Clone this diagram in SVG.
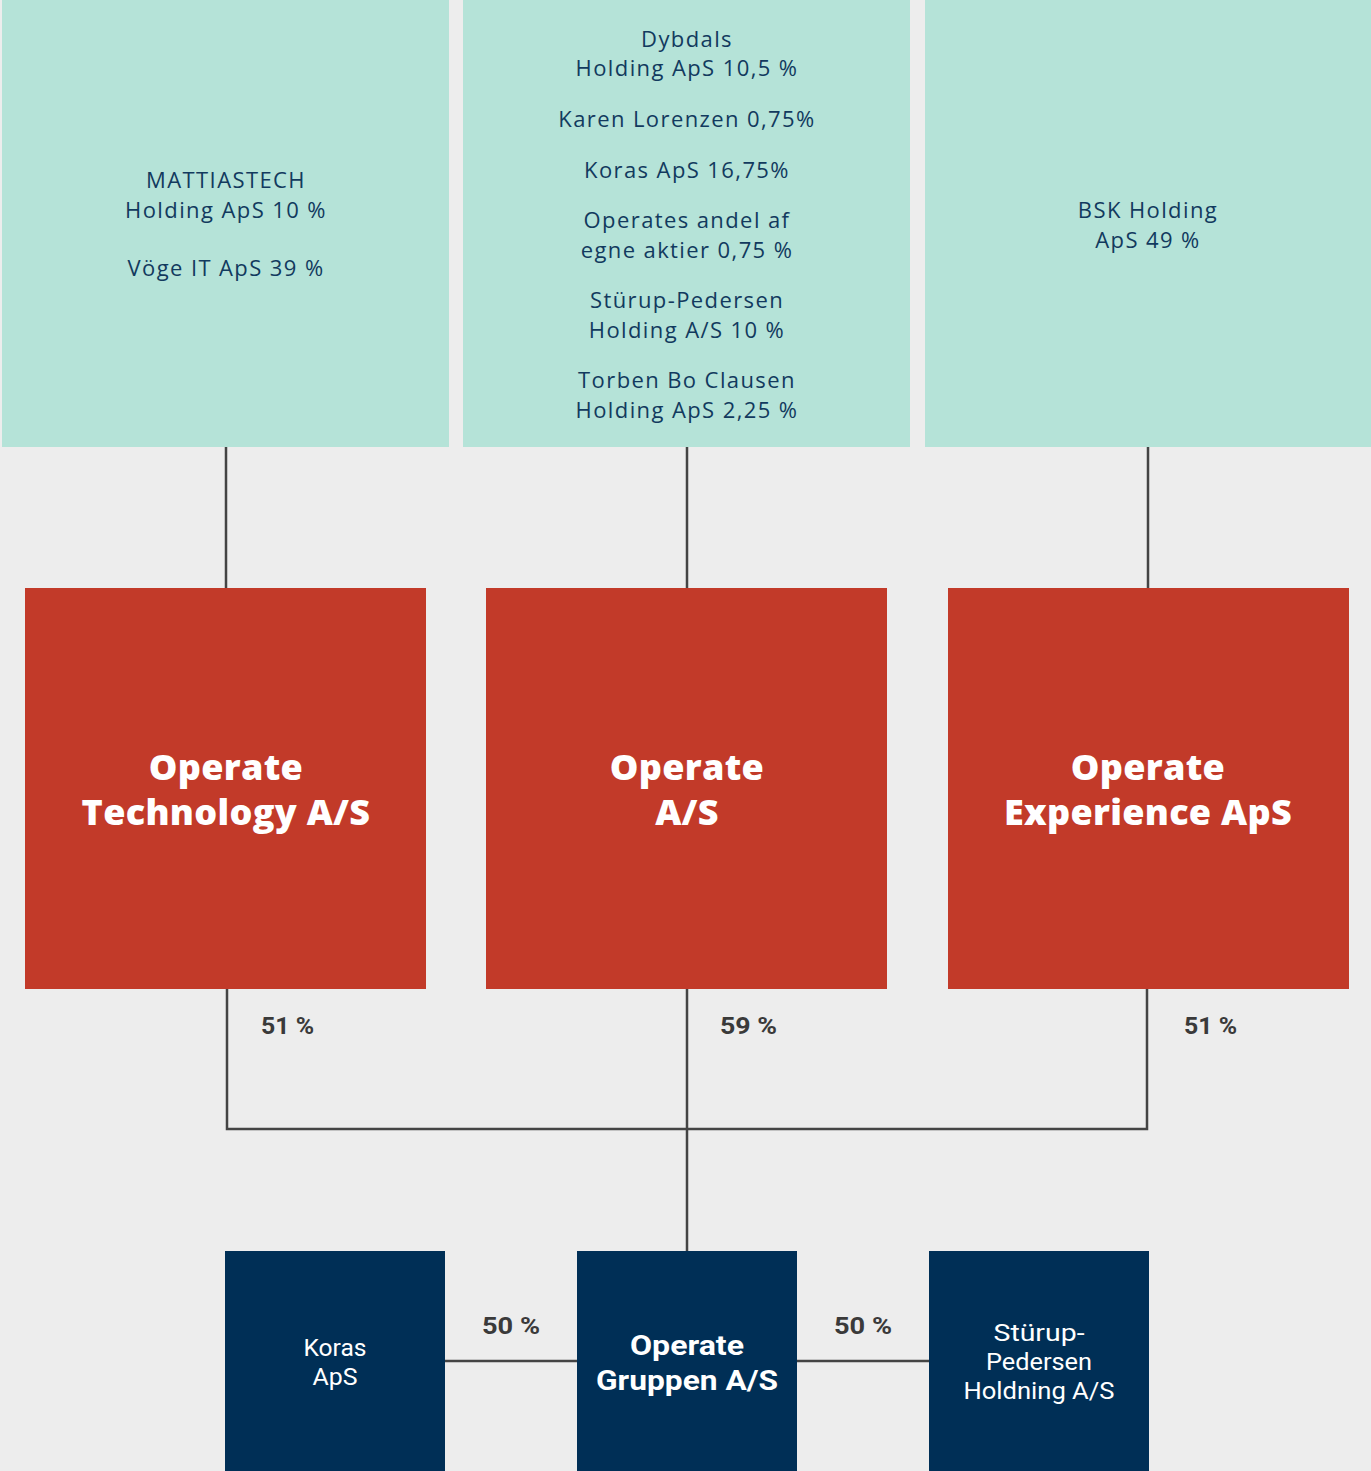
<svg xmlns="http://www.w3.org/2000/svg" width="1371" height="1471" viewBox="0 0 1371 1471">
<style>
.bg{fill:#ededed}
.teal{fill:#b5e3d8}
.red{fill:#c23a29}
.navy{fill:#002f56}
.t{font-family:"Open Sans","Noto Sans",sans-serif;font-size:22px;fill:#123a5e;text-anchor:middle;letter-spacing:1.4px}
.rt{font-family:"Open Sans","Noto Sans",sans-serif;font-size:36px;font-weight:800;fill:#ffffff;text-anchor:middle;letter-spacing:0.3px}
.nt{font-family:Roboto,"Liberation Sans",sans-serif;font-size:23px;fill:#ffffff;text-anchor:middle}
.nb{font-family:Roboto,"Liberation Sans",sans-serif;font-size:27px;font-weight:700;fill:#ffffff;text-anchor:middle}
.pc{font-family:Roboto,"Liberation Sans",sans-serif;font-size:24px;font-weight:700;fill:#3a3a3a}
.ln{fill:none;stroke:#444444;stroke-width:2.5}
</style>
<rect class="bg" x="0" y="0" width="1371" height="1471"/>
<g id="connectors">
<path class="ln" d="M226 447V588M687 447V588M1148 447V588"/>
<path class="ln" d="M227 989V1129H1147V989M687 989V1251"/>
<path class="ln" d="M445 1361H577M797 1361H929"/>
</g>
<g id="labels">
<text class="pc" x="261" y="1034" textLength="53" lengthAdjust="spacingAndGlyphs">51 %</text>
<text class="pc" x="720" y="1034" textLength="57" lengthAdjust="spacingAndGlyphs">59 %</text>
<text class="pc" x="1184" y="1034" textLength="53" lengthAdjust="spacingAndGlyphs">51 %</text>
<text class="pc" x="482" y="1334" textLength="58" lengthAdjust="spacingAndGlyphs">50 %</text>
<text class="pc" x="834" y="1334" textLength="58" lengthAdjust="spacingAndGlyphs">50 %</text>
</g>
<g id="owners-left">
<rect class="teal" x="2" y="0" width="447" height="447"/>
<text class="t" x="226" y="188">MATTIASTECH</text>
<text class="t" x="226" y="218">Holding ApS 10 %</text>
<text class="t" x="226" y="276">Vöge IT ApS 39 %</text>
</g>
<g id="owners-center">
<rect class="teal" x="463" y="0" width="447" height="447"/>
<text class="t" x="687" y="47">Dybdals</text>
<text class="t" x="687" y="76">Holding ApS 10,5 %</text>
<text class="t" x="687" y="127">Karen Lorenzen 0,75%</text>
<text class="t" x="687" y="178">Koras ApS 16,75%</text>
<text class="t" x="687" y="228">Operates andel af</text>
<text class="t" x="687" y="258">egne aktier 0,75 %</text>
<text class="t" x="687" y="308">Stürup-Pedersen</text>
<text class="t" x="687" y="338">Holding A/S 10 %</text>
<text class="t" x="687" y="388">Torben Bo Clausen</text>
<text class="t" x="687" y="418">Holding ApS 2,25 %</text>
</g>
<g id="owners-right">
<rect class="teal" x="925" y="0" width="446" height="447"/>
<text class="t" x="1148" y="218">BSK Holding</text>
<text class="t" x="1148" y="248">ApS 49 %</text>
</g>
<g id="operate-technology">
<rect class="red" x="25" y="588" width="401" height="401"/>
<text class="rt" x="226" y="780">Operate</text>
<text class="rt" x="226" y="825">Technology A/S</text>
</g>
<g id="operate-as">
<rect class="red" x="486" y="588" width="401" height="401"/>
<text class="rt" x="687" y="780">Operate</text>
<text class="rt" x="687" y="825">A/S</text>
</g>
<g id="operate-experience">
<rect class="red" x="948" y="588" width="401" height="401"/>
<text class="rt" x="1148" y="780">Operate</text>
<text class="rt" x="1148" y="825">Experience ApS</text>
</g>
<g id="koras">
<rect class="navy" x="225" y="1251" width="220" height="220"/>
<text class="nt" x="335" y="1356" textLength="63" lengthAdjust="spacingAndGlyphs">Koras</text>
<text class="nt" x="335" y="1385" textLength="45" lengthAdjust="spacingAndGlyphs">ApS</text>
</g>
<g id="operate-gruppen">
<rect class="navy" x="577" y="1251" width="220" height="220"/>
<text class="nb" x="687" y="1355" textLength="114" lengthAdjust="spacingAndGlyphs">Operate</text>
<text class="nb" x="687" y="1390" textLength="182" lengthAdjust="spacingAndGlyphs">Gruppen A/S</text>
</g>
<g id="sturup">
<rect class="navy" x="929" y="1251" width="220" height="220"/>
<text class="nt" x="1039" y="1341" textLength="91" lengthAdjust="spacingAndGlyphs">Stürup-</text>
<text class="nt" x="1039" y="1370" textLength="106" lengthAdjust="spacingAndGlyphs">Pedersen</text>
<text class="nt" x="1039" y="1399" textLength="151" lengthAdjust="spacingAndGlyphs">Holdning A/S</text>
</g>
</svg>
